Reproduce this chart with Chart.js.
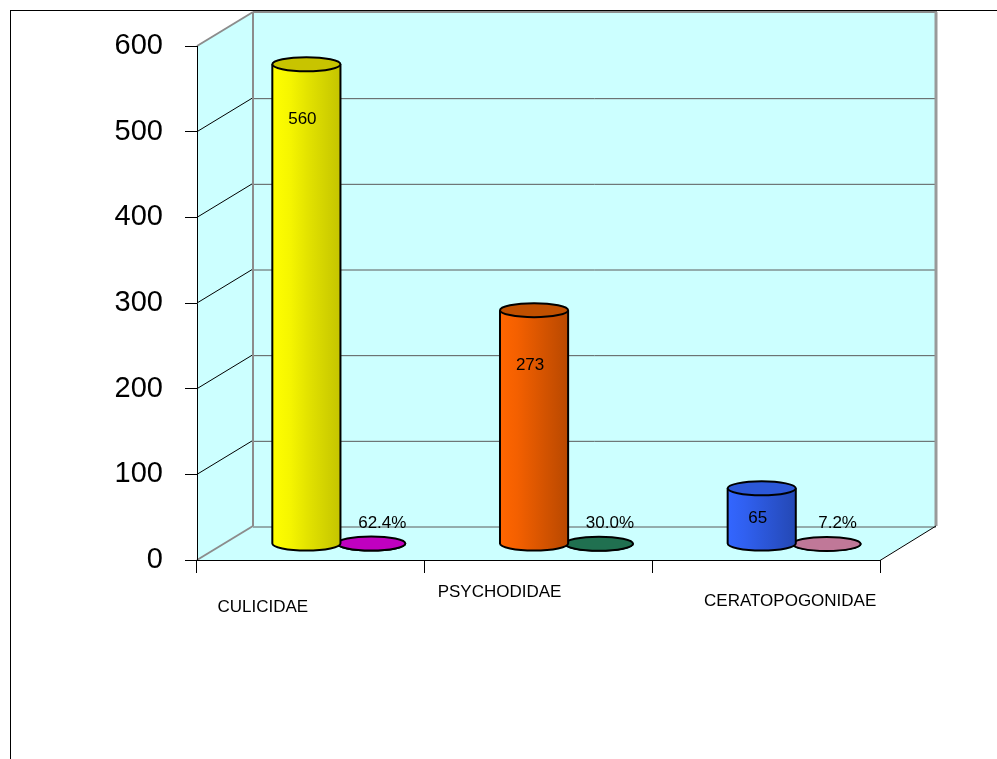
<!DOCTYPE html>
<html><head><meta charset="utf-8">
<script src="https://cdn.jsdelivr.net/npm/chart.js@4/dist/chart.umd.min.js"></script>
<style>html,body{margin:0;padding:0;background:#fff;overflow:hidden}</style>
</head><body>
<canvas id="c" width="997" height="759"></canvas>
<script>
// ---- data ----
const categories = ['CULICIDAE', 'PSYCHODIDAE', 'CERATOPOGONIDAE'];
const counts = [560, 273, 65];
const shares = [0.624, 0.300, 0.072];
const yTicks = [0, 100, 200, 300, 400, 500, 600];

// ---- styles ----
const FONT = 'Liberation Sans, Arial, sans-serif';
const DEPTH_X = 56, DEPTH_Y = -34;      // back wall offset
const MID_X = 28, MID_Y = -16;          // bars sit half-way in depth
const WALL = '#CCFFFF';
const countStyles = [
  { body: ['#FFFF00', '#F6F600', '#E4E400', '#D4D400', '#C4C400'], cap: '#C8C400' },
  { body: ['#FF6600', '#F46000', '#E05800', '#CC5000', '#B84800'], cap: '#C05000' },
  { body: ['#3366FF', '#3060F0', '#2C58DC', '#2850C8', '#2448B4'], cap: '#2C58D8' }
];
const shareStyles = [
  { body: ['#C000C0'], cap: '#C000C0' },
  { body: ['#207050'], cap: '#207050' },
  { body: ['#C07898'], cap: '#C07898' }
];
const labelDX = [-48, -39, 24], labelDY = [47, 32, 41];

function cylinder(ctx, cx, top, base, w, st) {
  const rx = w / 2, ry = 7, l = cx - rx, r = cx + rx;
  ctx.save();
  let fill;
  if (st.body.length > 1) {
    fill = ctx.createLinearGradient(l, 0, r, 0);
    st.body.forEach((c, i) => fill.addColorStop(i / (st.body.length - 1), c));
  } else fill = st.body[0];
  ctx.beginPath();
  ctx.moveTo(l, top);
  ctx.lineTo(l, base);
  ctx.ellipse(cx, base, rx, ry, 0, Math.PI, 0, true);
  ctx.lineTo(r, top);
  ctx.ellipse(cx, top, rx, ry, 0, 0, Math.PI, false);
  ctx.closePath();
  ctx.fillStyle = fill;
  ctx.fill();
  ctx.lineWidth = 2;
  ctx.strokeStyle = '#000';
  ctx.beginPath();
  ctx.moveTo(l, top);
  ctx.lineTo(l, base);
  ctx.ellipse(cx, base, rx, ry, 0, Math.PI, 0, true);
  ctx.lineTo(r, top);
  ctx.stroke();
  ctx.beginPath();
  ctx.ellipse(cx, top, rx, ry, 0, 0, Math.PI * 2);
  ctx.fillStyle = st.cap;
  ctx.fill();
  ctx.stroke();
  ctx.restore();
}

function line(ctx, x1, y1, x2, y2, color, w) {
  ctx.beginPath();
  ctx.moveTo(x1, y1); ctx.lineTo(x2, y2);
  ctx.strokeStyle = color; ctx.lineWidth = w; ctx.stroke();
}

const frame3d = {
  id: 'frame3d',
  beforeDraw(chart) {
    const ctx = chart.ctx, a = chart.chartArea, ys = chart.scales.y;
    const L = a.left, R = a.right, T = ys.getPixelForValue(600), B = ys.getPixelForValue(0);
    ctx.save();
    ctx.strokeStyle = '#000'; ctx.lineWidth = 1;
    ctx.strokeRect(10.5, 10.5, 1200, 1000);
    ctx.fillStyle = WALL;
    ctx.beginPath();
    ctx.moveTo(L + DEPTH_X, T + DEPTH_Y); ctx.lineTo(R + DEPTH_X, T + DEPTH_Y);
    ctx.lineTo(R + DEPTH_X, B + DEPTH_Y); ctx.lineTo(L + DEPTH_X, B + DEPTH_Y);
    ctx.closePath(); ctx.fill();
    ctx.beginPath();
    ctx.moveTo(L, T); ctx.lineTo(L + DEPTH_X, T + DEPTH_Y);
    ctx.lineTo(L + DEPTH_X, B + DEPTH_Y); ctx.lineTo(L, B);
    ctx.closePath(); ctx.fill();
    ctx.beginPath();
    ctx.moveTo(L, B); ctx.lineTo(L + DEPTH_X, B + DEPTH_Y);
    ctx.lineTo(R + DEPTH_X, B + DEPTH_Y); ctx.lineTo(R, B);
    ctx.closePath(); ctx.fill();
    yTicks.forEach(v => {
      const y = ys.getPixelForValue(v);
      if (v !== 600) line(ctx, L + DEPTH_X, y + DEPTH_Y + 1, R + DEPTH_X, y + DEPTH_Y + 1, '#5a5a5a', 1);
      if (v !== 0 && v !== 600) line(ctx, L, y, L + DEPTH_X, y + DEPTH_Y, '#000', 1);
    });
    line(ctx, L + DEPTH_X, T + DEPTH_Y, R + DEPTH_X + 1, T + DEPTH_Y, '#8c8c8c', 2);
    line(ctx, L + DEPTH_X, T + DEPTH_Y, L + DEPTH_X, B + DEPTH_Y, '#8c8c8c', 2);
    line(ctx, R + DEPTH_X, T + DEPTH_Y, R + DEPTH_X, B + DEPTH_Y, '#999', 3);
    line(ctx, L, T, L + DEPTH_X, T + DEPTH_Y, '#8c8c8c', 2);
    line(ctx, L, B, L + DEPTH_X, B + DEPTH_Y, '#8c8c8c', 2);
    line(ctx, R, B + 0.5, R + DEPTH_X, B + DEPTH_Y, '#000', 1);
    ctx.restore();
  },
  beforeDatasetsDraw(chart) {
    chart.ctx.save();
    chart.ctx.translate(MID_X, MID_Y);
  },
  afterDatasetsDraw(chart) {
    const ctx = chart.ctx;
    const m0 = chart.getDatasetMeta(0), m1 = chart.getDatasetMeta(1);
    m1.data.forEach((el, i) => cylinder(ctx, el.x, el.y, el.base, el.width, shareStyles[i]));
    m0.data.forEach((el, i) => cylinder(ctx, el.x, el.y, el.base, el.width, countStyles[i]));
    ctx.fillStyle = '#000';
    ctx.font = '17px ' + FONT;
    ctx.textAlign = 'center'; ctx.textBaseline = 'middle';
    m0.data.forEach((el, i) => {
      const y = Math.min(el.y + 55, (el.y + el.base) / 2 + 2);
      ctx.fillText(String(counts[i]), el.x - 4, y);
    });
    m1.data.forEach((el, i) => {
      ctx.fillText((shares[i] * 100).toFixed(1) + '%', el.x + 11, el.base - 20);
    });
    ctx.restore();
  },
  afterDraw(chart) {
    const ctx = chart.ctx, xs = chart.scales.x, B = chart.chartArea.bottom;
    ctx.save();
    ctx.fillStyle = '#000';
    ctx.font = '17px ' + FONT;
    ctx.textAlign = 'center'; ctx.textBaseline = 'middle';
    categories.forEach((c, i) => ctx.fillText(c, xs.getPixelForValue(i) + labelDX[i], B + labelDY[i]));
    ctx.restore();
  }
};

new Chart(document.getElementById('c'), {
  type: 'bar',
  data: {
    labels: categories,
    datasets: [
      { data: counts, backgroundColor: countStyles.map(s => s.body[0]), borderWidth: 0, clip: false,
        barPercentage: 1.05, categoryPercentage: 0.57 },
      { data: shares, backgroundColor: shareStyles.map(s => s.body[0]), borderWidth: 0, clip: false,
        barPercentage: 1.05, categoryPercentage: 0.57 }
    ]
  },
  options: {
    responsive: false,
    animation: false,
    events: [],
    layout: { padding: { top: 46, right: 117, left: 0, bottom: 0 } },
    plugins: { legend: { display: false }, tooltip: { enabled: false } },
    scales: {
      x: {
        offset: true,
        grid: { offset: true, drawOnChartArea: false, drawTicks: true, tickLength: 13, color: '#000', lineWidth: 1 },
        border: { display: true, color: '#000', width: 1 },
        ticks: { display: false },
        afterFit(s) { s.height = 199; }
      },
      y: {
        min: 0, max: 600,
        afterBuildTicks(s) { s.ticks = yTicks.map(v => ({ value: v })); },
        ticks: { font: { family: FONT, size: 29 }, color: '#000', padding: 22 },
        grid: { drawOnChartArea: false, tickLength: 12, color: '#000' },
        border: { color: '#000', width: 1 },
        afterFit(s) { s.width = 197; }
      }
    }
  },
  plugins: [frame3d]
});
</script>
</body></html>
